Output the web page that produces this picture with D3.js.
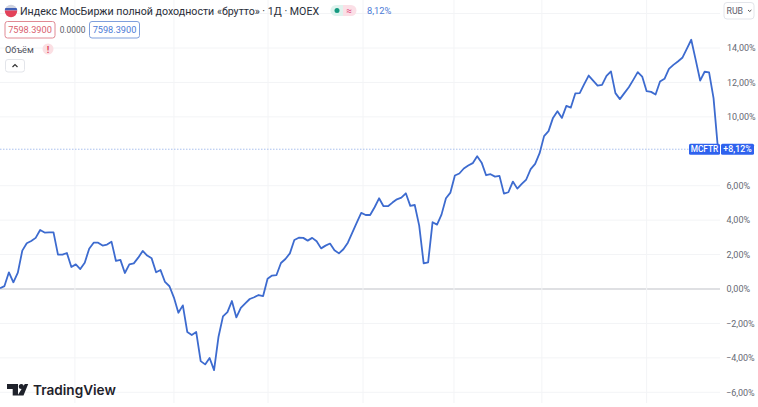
<!DOCTYPE html>
<html><head><meta charset="utf-8">
<script src="https://cdn.jsdelivr.net/npm/d3@7/dist/d3.min.js"></script>
<style>html,body{margin:0;padding:0;background:#fff;overflow:hidden}svg{display:block;font-family:Roboto,"Noto Sans",sans-serif}</style>
</head><body><svg id="c" width="758" height="407"></svg>
<script>
const series = [0.04,0.17,0.97,0.39,0.95,2.23,2.66,2.79,2.97,3.43,3.28,3.29,3.29,2.0,2.0,2.09,1.28,1.43,1.16,1.53,2.34,2.69,2.69,2.52,2.58,2.75,1.63,1.69,0.93,1.43,1.49,1.82,2.21,1.94,1.78,0.97,1.10,0.41,0.16,-0.50,-1.38,-0.95,-2.5,-2.67,-2.5,-4.19,-4.38,-4.01,-4.71,-2.77,-1.59,-1.34,-0.70,-1.65,-1.09,-0.83,-0.58,
-0.48,-0.35,-0.41,0.6,0.78,0.81,1.51,1.74,2.07,2.85,2.98,2.97,2.81,2.97,2.77,2.36,2.52,2.64,2.25,2.07,2.31,2.69,3.28,3.86,4.42,4.30,4.30,4.75,5.27,4.81,4.81,5.02,5.21,5.31,5.56,4.83,4.88,3.68,1.49,1.55,3.88,3.74,4.32,5.27,5.60,6.59,6.71,7.0,7.17,7.31,7.71,7.34,6.61,6.67,6.53,6.57,
5.54,5.62,6.24,5.83,6.10,6.36,6.96,7.27,7.89,8.88,9.17,9.94,10.33,9.94,10.64,10.54,11.36,11.38,11.90,12.40,12.11,11.82,11.86,12.38,12.64,11.38,11.03,11.38,11.72,12.15,12.60,12.34,11.49,11.45,11.30,12.05,12.21,12.79,13.02,13.22,13.43,13.95,14.48,13.31,12.11,12.62,12.58,11.09,8.12];
const yTicks = [-6,-4,-2,0,2,4,6,8,10,12,14,16];
const yLabelTicks = [-6,-4,-2,0,2,4,6,10,12,14];
const timeGrid = [16.8,39,60.1,81.4,101.8,121.5,145];
const lastValue = 8.12;
const title = "Индекс МосБиржи полной доходности «брутто» · 1Д · MOEX";
const priceText = "7598.3900", changeText = "0.0000", pctText = "8,12%", tagName = "MCFTR", tagValue = "+8,12%";

const W = 720, H = 403;
const svg = d3.select("#c");
const x = d3.scaleLinear().domain([0, series.length - 1]).range([0, 718]);
const y = d3.scaleLinear().domain([0, 14]).range([289, 48]);
const fmt = v => (v < 0 ? "−" : "") + Math.abs(v).toFixed(2).replace(".", ",") + "%";

// grid
svg.append("g").selectAll("line").data(yTicks.filter(d => d !== 8)).join("line")
  .attr("x1", 0).attr("x2", W).attr("y1", d => y(d)).attr("y2", d => y(d))
  .attr("stroke", d => d === 0 ? "#d4d6da" : "#f3f4f6").attr("stroke-width", d => d === 0 ? 1.3 : 1);
svg.append("g").selectAll("line").data(timeGrid).join("line")
  .attr("x1", d => x(d)).attr("x2", d => x(d)).attr("y1", 0).attr("y2", H)
  .attr("stroke", "#f3f4f6");

// last value dashed
svg.append("line").attr("x1", 0).attr("x2", W).attr("y1", y(lastValue)).attr("y2", y(lastValue))
  .attr("stroke", "#a9c0ee").attr("stroke-width", 1).attr("stroke-dasharray", "1.5 1.5");

// line
svg.append("path").datum(series)
  .attr("fill", "none").attr("stroke", "#3d6bcf").attr("stroke-width", 1.8).attr("stroke-linejoin", "round")
  .attr("d", d3.line().x((d, i) => x(i)).y(d => y(d)));

// y labels
svg.append("g").selectAll("text").data(yLabelTicks).join("text")
  .attr("x", d => d >= 10 ? 727 : (d < 0 ? 726 : 726.5)).attr("y", d => y(d) + 3.3)
  .attr("font-size", 9).attr("fill", "#666973").text(fmt);

// price tag
svg.append("rect").attr("x", 689).attr("y", y(lastValue) - 5.5).attr("width", 31).attr("height", 11).attr("rx", 1.5).attr("fill", "#2f62ee");
svg.append("rect").attr("x", 721).attr("y", y(lastValue) - 5.5).attr("width", 33).attr("height", 11).attr("rx", 1.5).attr("fill", "#2f62ee");
svg.append("text").attr("x", 704.5).attr("y", y(lastValue) + 3).attr("text-anchor", "middle").attr("font-size", 8.3).attr("font-weight", 500).attr("fill", "#fff").text(tagName);
svg.append("text").attr("x", 737.5).attr("y", y(lastValue) + 3).attr("text-anchor", "middle").attr("font-size", 8.8).attr("font-weight", 500).attr("fill", "#fff").text(tagValue);

// RUB selector
svg.append("rect").attr("x", 724).attr("y", 2.5).attr("width", 30).attr("height", 16.5).attr("rx", 3).attr("fill", "#fff").attr("stroke", "#e3e5ea");
svg.append("text").attr("x", 726.5).attr("y", 14).attr("font-size", 8.8).attr("fill", "#5d606b").text("RUB");
svg.append("path").attr("d", "M748 10l1.7 1.5 1.7-1.5").attr("fill", "none").attr("stroke", "#555").attr("stroke-width", 1);

// header: flag
const flag = svg.append("g");
flag.append("clipPath").attr("id", "fc").append("circle").attr("cx", 11).attr("cy", 11).attr("r", 6.2);
const fg = flag.append("g").attr("clip-path", "url(#fc)");
fg.append("rect").attr("x", 4).attr("y", 4).attr("width", 14).attr("height", 5).attr("fill", "#cfd3e0");
fg.append("rect").attr("x", 4).attr("y", 8).attr("width", 14).attr("height", 2.5).attr("fill", "#3f5fb5");
fg.append("rect").attr("x", 4).attr("y", 10.5).attr("width", 14).attr("height", 8).attr("fill", "#e3425a");

svg.append("text").attr("x", 20).attr("y", 14.5).attr("font-size", 10.65).attr("fill", "#2a2e39").text(title);

// status pill
svg.append("path").attr("d", "M336 5h7v11h-7a5.5 5.5 0 0 1 0-11z").attr("fill", "#dff3ee");
svg.append("path").attr("d", "M343 5h8a5.5 5.5 0 0 1 0 11h-8z").attr("fill", "#fbdfe6");
svg.append("circle").attr("cx", 337).attr("cy", 10.5).attr("r", 2.5).attr("fill", "#159a80");
svg.append("text").attr("x", 349).attr("y", 14).attr("text-anchor", "middle").attr("font-size", 10).attr("fill", "#e0487a").text("≈");
svg.append("text").attr("x", 367).attr("y", 14).attr("font-size", 9.3).attr("fill", "#4c7ad6").text(pctText);

// OHLC boxes
svg.append("rect").attr("x", 5).attr("y", 21.5).attr("width", 50).attr("height", 16.5).attr("rx", 2.5).attr("fill", "#fff").attr("stroke", "#e08a94");
svg.append("text").attr("x", 30).attr("y", 33.3).attr("text-anchor", "middle").attr("font-size", 9.2).attr("fill", "#d9606e").text(priceText);
svg.append("text").attr("x", 72.5).attr("y", 32.8).attr("text-anchor", "middle").attr("font-size", 8.4).attr("fill", "#5d606b").text(changeText);
svg.append("rect").attr("x", 89.5).attr("y", 21.5).attr("width", 50).attr("height", 16.5).attr("rx", 2.5).attr("fill", "#fff").attr("stroke", "#7f9fdc");
svg.append("text").attr("x", 114.5).attr("y", 33.3).attr("text-anchor", "middle").attr("font-size", 9.2).attr("fill", "#4c7ad6").text(priceText);

// volume row
svg.append("text").attr("x", 5).attr("y", 52.5).attr("font-size", 9.2).attr("fill", "#50535e").text("Объём");
svg.append("circle").attr("cx", 48).attr("cy", 49).attr("r", 5.5).attr("fill", "#fbdfe3");
svg.append("text").attr("x", 48).attr("y", 52.5).attr("text-anchor", "middle").attr("font-size", 9.5).attr("font-weight", 700).attr("fill", "#e0485a").text("!");
svg.append("rect").attr("x", 5.5).attr("y", 59.5).attr("width", 19).attr("height", 12.5).attr("rx", 2.5).attr("fill", "#fff").attr("stroke", "#e3e5ea");
svg.append("path").attr("d", "M12.5 67l2.5-2.5 2.5 2.5").attr("fill", "none").attr("stroke", "#333").attr("stroke-width", 1.2);

// TradingView logo
svg.append("path").attr("fill", "#1f222b").attr("d", "M7 384h11v11.5h-5.3V389H7z M24.8 384h3.4L23.5 395.5h-6z");
svg.append("circle").attr("cx", 21.3).attr("cy", 386.6).attr("r", 2.5).attr("fill", "#1f222b");
svg.append("text").attr("x", 33).attr("y", 394.5).attr("font-family", "Inter").attr("font-size", 13.6).attr("font-weight", 600).attr("fill", "#1f222b").text("TradingView");
</script></body></html>
